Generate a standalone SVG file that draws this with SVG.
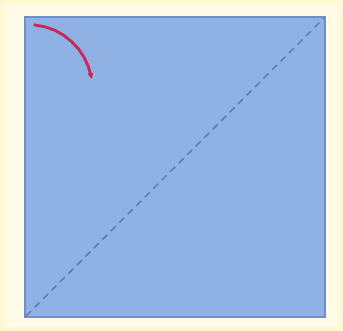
<svg xmlns="http://www.w3.org/2000/svg" width="343" height="331" viewBox="0 0 343 331">
<defs>
<marker id="ah" markerWidth="6" markerHeight="6" refX="3" refY="3" orient="auto" markerUnits="userSpaceOnUse"><path d="M0,0 L6,3 L0,6 Z" fill="#c8285a"/></marker>
</defs>
<style>
.bg{fill:#fff6d2}
.sq{fill:#8fb1e3;stroke:#6e8fc8;stroke-width:2}
.diag{stroke:#5c7bb2;stroke-width:1.6;stroke-dasharray:7,5;fill:none}
.arc{stroke:#c8285a;stroke-width:3;fill:none;stroke-linecap:round}
</style>
<rect class="bg" x="0" y="0" width="343" height="331"/>
<rect x="4" y="4" width="335" height="323" fill="#fffbe6"/>
<g id="square"><rect class="sq" x="25" y="17" width="300" height="300"/></g>
<g id="connectors">
<line class="diag" x1="26" y1="316" x2="324" y2="18"/>
<path class="arc" d="M35,25 A64,64 0 0 1 91,76" marker-end="url(#ah)"/>
</g>
</svg>
